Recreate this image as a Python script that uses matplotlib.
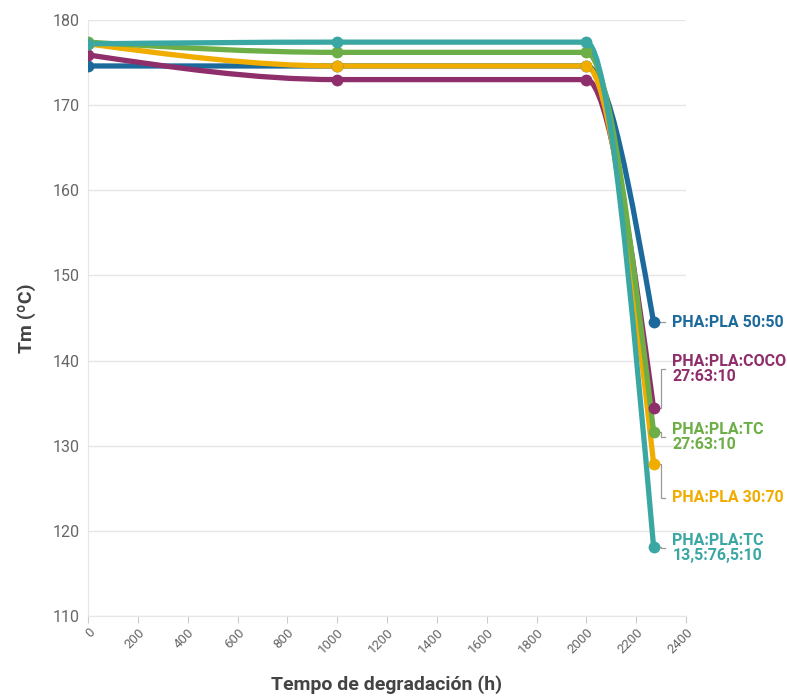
import numpy as np
import matplotlib.pyplot as plt
from matplotlib.path import Path
from matplotlib.patches import PathPatch

plt.rcParams['font.family'] = ['Roboto', 'DejaVu Sans']

horas = [0, 1000, 2000, 2270]
series = ['PHA:PLA 50:50', 'PHA:PLA:COCO\n27:63:10', 'PHA:PLA 30:70',
          'PHA:PLA:TC\n27:63:10', 'PHA:PLA:TC\n13,5:76,5:10']
tm_5050 = [174.6, 174.6, 174.6, 144.5]
tm_coco = [175.9, 173.0, 173.0, 134.4]
tm_3070 = [177.2, 174.6, 174.6, 127.9]
tm_tc27 = [177.4, 176.2, 176.2, 131.6]
tm_tc13 = [177.2, 177.4, 177.4, 118.1]
valores = [tm_5050, tm_coco, tm_3070, tm_tc27, tm_tc13]
cores = ['#1c6a9b', '#8e2f6b', '#f0ad00', '#6dae46', '#3aa7a2']
label_y = [144.5, 139.0, 123.9, 131.0, 118.0]


def monotone_path(x, y):
    # curva monótona (tipo d3 monotoneX) como Bézier cúbica
    x = np.asarray(x, float)
    y = np.asarray(y, float)
    n = len(x)
    h = np.diff(x)
    s = np.diff(y) / h
    t = np.zeros(n)
    for i in range(1, n - 1):
        p = (s[i - 1] * h[i] + s[i] * h[i - 1]) / (h[i - 1] + h[i])
        t[i] = (np.sign(s[i - 1]) + np.sign(s[i])) * min(abs(s[i - 1]), abs(s[i]), 0.5 * abs(p))
    t[0] = (3 * s[0] - t[1]) / 2
    t[-1] = (3 * s[-1] - t[-2]) / 2
    verts = [(x[0], y[0])]
    codes = [Path.MOVETO]
    for i in range(n - 1):
        dx = h[i] / 3
        verts += [(x[i] + dx, y[i] + dx * t[i]),
                  (x[i + 1] - dx, y[i + 1] - dx * t[i + 1]),
                  (x[i + 1], y[i + 1])]
        codes += [Path.CURVE4] * 3
    return Path(verts, codes)


fig = plt.figure(figsize=(7.87, 6.98), dpi=100)
ax = fig.add_axes([88 / 787, 82 / 698, 598 / 787, 596 / 698])

for vals, cor in zip(valores, cores):
    ax.add_patch(PathPatch(monotone_path(horas, vals), facecolor='none',
                           edgecolor=cor, lw=3.8, capstyle='round', joinstyle='round'))
    ax.plot(horas, vals, 'o', color=cor, ms=7.5, zorder=3)

# rótulos com linhas-guia
xe = horas[-1]
for nome, vals, cor, ly in zip(series, valores, cores, label_y):
    py = vals[-1]
    xb = xe + 30
    ax.plot([xe + 20, xb, xb, xb + 14], [py, py, ly, ly], color='#999999', lw=0.9,
            zorder=1, clip_on=False)
    ax.text(xe + 75, ly, nome, color=cor, fontsize=11.5, fontweight='bold',
            va='center', ha='left', linespacing=1.0, clip_on=False)

ax.set_xlim(0, 2400)
ax.set_ylim(110, 180)
ax.set_xticks(np.arange(0, 2401, 200))
ax.set_yticks(np.arange(110, 181, 10))
ax.grid(axis='y', color='#e6e6e6', lw=1)
ax.set_axisbelow(True)
for sp in ['top', 'right']:
    ax.spines[sp].set_visible(False)
ax.spines['left'].set_color('#e6e6e6')
ax.spines['bottom'].set_color('#e6e6e6')
ax.tick_params(axis='y', length=0, labelsize=11.5, labelcolor='#666666', pad=6)
ax.tick_params(axis='x', length=5, color='#cccccc', labelsize=9.5, labelcolor='#666666', pad=2)
for lab in ax.get_xticklabels():
    lab.set_rotation(45)
    lab.set_ha('right')
    lab.set_rotation_mode('anchor')

ax.set_xlabel('Tempo de degradación (h)', fontsize=14, fontweight='bold',
              color='#444444', labelpad=14)
ax.set_ylabel('Tm (ºC)', fontsize=14, fontweight='bold', color='#444444', labelpad=12)

fig.savefig('out.png', dpi=100)
